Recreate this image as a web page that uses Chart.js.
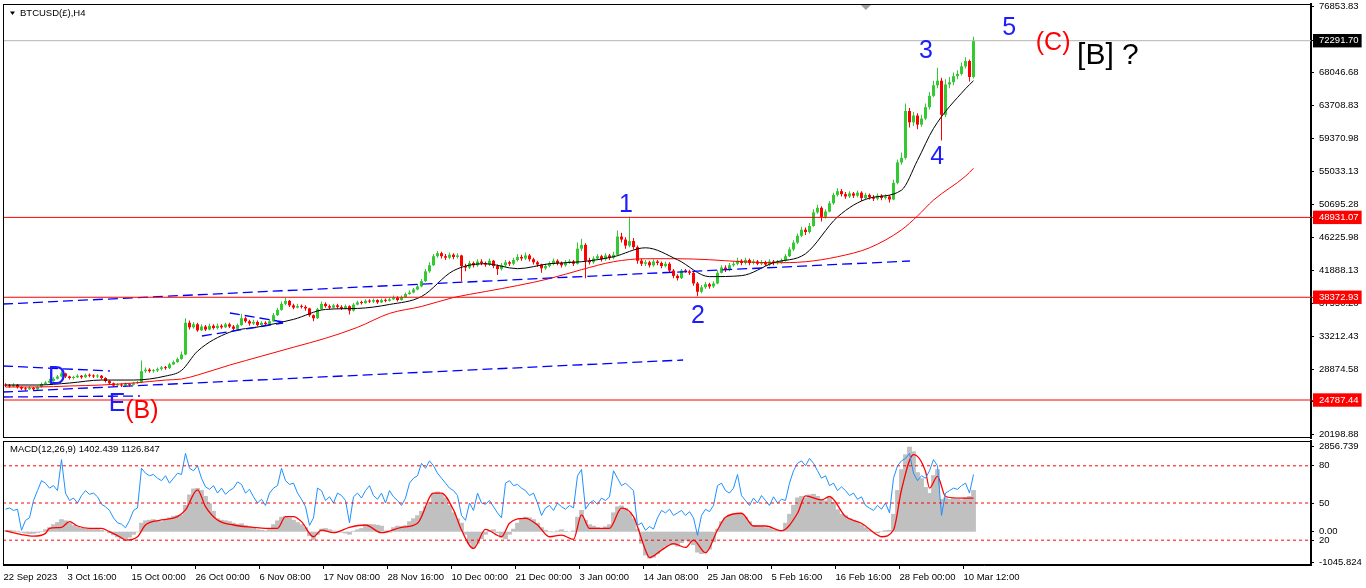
<!DOCTYPE html>
<html>
<head>
<meta charset="utf-8">
<script src="https://cdn.jsdelivr.net/npm/chart.js@4.4.1/dist/chart.umd.min.js"></script>
<style>
html, body { margin: 0; padding: 0; background: #fff; }
#wrap { position: relative; width: 1366px; height: 588px; overflow: hidden; background: #fff; }
canvas { position: absolute; left: 0; }
#price_canvas { top: 0; }
#macd_canvas { top: 440px; }
</style>
</head>
<body>
<div id="wrap">
  <canvas id="price_canvas" width="1366" height="440"></canvas>
  <canvas id="macd_canvas" width="1366" height="148"></canvas>
</div>
<script>
// time axis labels, one every 16 slots
var dateLabels = ['22 Sep 2023', '3 Oct 16:00', '15 Oct 00:00', '26 Oct 00:00', '6 Nov 08:00', '17 Nov 08:00',
    '28 Nov 16:00', '10 Dec 00:00', '21 Dec 00:00', '3 Jan 00:00', '14 Jan 08:00', '25 Jan 08:00',
    '5 Feb 16:00', '16 Feb 16:00', '28 Feb 00:00', '10 Mar 12:00'];

// candles, in thousands
var firstOpen = 26.8;
var closes = [26.7,26.6,26.8,26.5,26.3,26.2,26.4,26.2,26.5,26.9,
    27.1,27.3,27.6,27.9,28.3,27.9,27.7,27.8,28.0,27.8,
    28.1,28.0,27.9,28.0,27.7,27.3,27.0,26.7,26.8,26.7,
    26.9,26.8,27.0,27.1,28.6,28.8,28.6,28.7,28.9,29.1,
    29.0,29.5,29.8,30.2,30.8,35.0,34.4,34.8,34.0,34.5,
    34.1,34.6,34.3,34.6,34.4,34.8,34.5,34.2,34.7,35.6,
    35.2,34.9,35.1,34.7,35.0,34.8,35.2,36.0,36.7,37.5,
    37.9,37.3,37.0,37.2,37.1,36.9,36.0,35.6,36.8,37.5,
    37.2,37.0,37.3,37.1,36.9,37.2,36.6,37.4,37.7,37.6,
    37.9,37.8,38.0,37.7,38.0,37.9,38.1,38.3,38.0,38.4,
    38.8,39.0,39.4,39.8,40.5,41.8,42.6,43.8,44.2,43.8,
    43.6,44.0,43.7,43.9,42.5,42.3,42.9,42.6,43.1,42.9,
    42.7,43.2,42.5,42.1,42.6,43.0,42.8,43.3,43.7,43.5,
    43.9,43.4,43.0,42.7,42.2,42.5,42.8,43.2,42.9,42.6,
    43.0,43.1,42.8,44.8,45.3,43.2,43.0,43.5,43.8,43.4,
    43.9,43.6,44.0,46.4,46.0,45.2,45.8,45.0,43.2,42.8,
    43.0,42.6,43.1,42.9,42.5,42.8,41.9,41.2,40.9,41.9,
    41.8,41.6,40.2,39.1,39.7,40.1,39.8,40.2,41.6,42.3,
    42.0,42.6,42.8,43.2,42.9,43.3,42.9,43.1,42.8,43.0,
    42.7,43.1,42.9,43.0,43.2,43.8,44.7,45.6,46.5,47.3,
    47.0,47.8,49.6,50.2,49.0,49.7,50.8,51.9,52.4,52.0,
    51.7,52.1,51.8,52.2,51.5,51.9,51.6,51.4,51.8,51.5,
    51.7,51.3,53.5,56.2,56.8,63.0,61.5,62.4,61.2,62.0,
    63.5,65.0,66.4,67.0,62.5,66.5,66.8,67.6,67.9,68.9,
    69.6,67.5,72.2917];
var highs = [27.0,26.9,27.0,26.9,26.6,26.5,26.6,26.5,26.7,27.1,
    27.3,27.6,27.8,28.1,28.6,28.4,28.0,28.0,28.2,28.1,
    28.3,28.3,28.2,28.2,28.1,27.8,27.4,27.1,27.0,27.0,
    27.1,27.0,27.2,27.3,30.0,29.1,29.0,28.9,29.1,29.3,
    29.3,29.7,30.0,30.4,31.2,35.6,35.3,35.1,35.0,34.8,
    34.7,34.9,34.8,34.9,34.8,35.0,35.0,34.7,34.9,36.2,
    35.8,35.4,35.4,35.3,35.2,35.2,35.5,36.3,37.0,37.8,
    38.3,38.0,37.5,37.5,37.4,37.3,37.0,36.1,37.0,37.8,
    37.7,37.4,37.5,37.5,37.3,37.4,37.3,37.6,37.9,37.9,
    38.1,38.1,38.2,38.1,38.2,38.2,38.3,38.6,38.5,38.6,
    39.0,39.3,39.6,40.1,40.8,42.1,43.0,44.1,44.5,44.4,
    44.1,44.3,44.2,44.2,44.0,42.8,43.2,43.1,43.4,43.4,
    43.1,43.5,43.3,42.7,42.9,43.3,43.2,43.6,44.1,44.0,
    44.3,44.1,43.6,43.2,42.8,42.8,43.1,43.5,43.4,43.1,
    43.3,43.4,43.3,45.6,46.1,45.5,43.6,43.8,44.1,44.0,
    44.2,44.1,44.4,47.2,46.9,46.3,49.0,46.2,45.2,43.5,
    43.3,43.2,43.4,43.3,43.1,43.1,43.0,42.1,41.4,42.1,
    42.1,42.0,41.8,40.4,40.0,40.4,40.3,40.5,41.9,42.6,
    42.6,42.9,43.1,43.6,43.4,43.6,43.5,43.4,43.3,43.3,
    43.2,43.4,43.3,43.3,43.5,44.1,45.0,45.9,46.8,47.7,
    47.6,48.2,50.0,50.6,50.4,50.0,51.1,52.2,52.8,52.7,
    52.3,52.4,52.3,52.5,52.4,52.2,52.1,51.9,52.1,52.0,
    52.0,51.9,53.9,56.6,57.5,64.0,63.4,62.9,62.7,62.5,
    64.0,65.5,67.0,68.7,67.4,67.2,67.5,68.1,68.4,69.4,
    70.1,69.8,72.8];
var lows = [26.5,26.4,26.5,26.3,26.1,26.0,26.1,26.0,26.1,26.4,
    26.8,27.0,27.2,27.5,27.8,27.7,27.5,27.5,27.7,27.6,
    27.7,27.8,27.7,27.7,27.5,27.1,26.8,26.5,26.5,26.5,
    26.6,26.6,26.7,26.9,27.0,28.4,28.4,28.4,28.5,28.7,
    28.8,28.9,29.4,29.7,30.1,30.7,34.1,34.2,33.8,33.9,
    33.9,34.0,34.1,34.1,34.2,34.3,34.3,34.0,34.1,34.6,
    35.0,34.6,34.7,34.5,34.5,34.6,34.7,35.1,35.9,36.6,
    37.3,37.1,36.8,36.9,36.9,36.6,35.8,35.2,35.5,36.7,
    37.0,36.8,36.9,36.9,36.7,36.8,36.1,36.5,37.3,37.4,
    37.5,37.6,37.6,37.5,37.6,37.7,37.8,38.0,37.8,37.9,
    38.3,38.7,38.9,39.3,39.7,40.4,41.6,42.5,43.6,43.5,
    43.3,43.4,43.4,43.5,40.5,41.8,42.1,42.3,42.4,42.6,
    42.4,42.5,42.2,41.3,41.9,42.4,42.5,42.6,43.1,43.2,
    43.3,43.1,42.7,42.4,41.6,42.0,42.3,42.6,42.6,42.3,
    42.4,42.8,42.5,42.7,44.5,40.9,42.7,42.8,43.3,43.1,
    43.2,43.3,43.4,43.9,45.6,44.8,45.0,44.7,42.8,42.5,
    42.5,42.3,42.4,42.6,42.2,42.3,41.6,40.9,40.6,40.8,
    41.6,41.3,39.9,38.5,38.9,39.5,39.5,39.6,40.1,41.5,
    41.7,41.8,42.4,42.6,42.6,42.7,42.6,42.7,42.6,42.6,
    42.5,42.5,42.6,42.7,42.8,43.1,43.7,44.5,45.4,46.3,
    46.6,46.8,47.7,49.4,48.4,48.8,49.6,50.6,51.7,51.7,
    51.4,51.5,51.5,51.6,51.1,51.3,51.3,51.1,51.2,51.2,
    51.3,50.9,51.2,53.3,55.9,56.6,60.8,61.0,60.6,60.9,
    61.8,63.2,64.8,66.0,59.1,62.2,66.0,66.4,67.2,67.7,
    68.6,66.9,67.3];

// moving averages read at these bar numbers
var maIdx = [0,8,16,24,32,40,44,48,56,64,72,80,88,96,104,112,120,128,136,144,152,160,168,176,184,192,200,208,216,224,228,232,240,242];
var fastMa = [26772,26772,27034,27429,27429,27955,28700,31241,33738,34527,35447,36762,36893,37419,38471,41888,42808,42151,
    42808,43071,43729,44912,43334,41100,41231,42940,44123,48987,51484,52536,56479,60686,65944,66995];
var slowMa = [26509,26509,26640,26772,27034,27429,27560,28086,29401,30584,31767,32950,34396,36236,37156,38339,39128,39917,
    40837,42020,43071,43466,43466,43334,43071,42940,43071,43729,44912,47278,49118,51221,54376,55428];

// price scale
var priceTicks = [76853.83, 68046.68, 63708.83, 59370.98, 55033.13, 50695.28, 46225.98, 41888.13, 37550.28,
    33212.43, 28874.58, 24536.73, 20198.88];
var levelLines = [48931.07, 38372.93, 24787.44];
var lastPrice = 72291.70;

// drawn trend lines: bar from, price from, bar to, price to
var trendLines = [
    [-0.125, 37481, 226.6, 43166],
    [-0.125, 25847, 169.9, 30077],
    [-0.125, 25185, 34.1, 25318],
    [-0.125, 29284, 26.6, 28623],
    [56.6, 36291, 69.9, 35101],
    [49.6, 33250, 69.9, 34969]
];

// wave marks: text, bar, price
var waveLabels = [['D', 13.4, 27830], ['E', 28.4, 24259], ['(B)', 34.6, 23334], ['1', 155.6, 50570],
    ['2', 173.6, 35894], ['3', 230.6, 70930], ['4', 233.4, 56915], ['5', 251.4, 73971],
    ['(C)', 262.4, 71988], ['[B] ?', 276.1, 70269]];
var shiftMarkBar = 215.6;

// MACD pane
var macdHist = [50,60,40,30,-30,-60,-80,-70,-40,20,
    80,150,250,320,420,380,300,220,160,130,
    110,100,110,90,60,10,-50,-120,-190,-250,
    -260,-200,-100,-20,300,380,400,420,380,350,
    420,480,530,560,570,900,1250,1450,1470,1400,
    1200,950,700,450,400,380,350,300,260,280,
    220,180,120,80,60,40,90,250,380,500,
    530,480,400,320,250,150,-150,-290,-100,100,
    120,80,40,10,-30,-60,-100,30,80,120,
    220,260,250,230,200,40,-30,150,200,190,
    220,350,450,550,700,850,1000,1300,1350,1280,
    1150,900,650,450,300,-100,-400,-560,-400,-250,
    -100,50,80,-50,-200,-250,-100,100,300,450,
    500,480,420,300,150,60,20,-20,40,80,
    30,-10,40,500,730,400,250,200,150,120,
    180,250,650,850,880,800,650,450,100,-400,
    -800,-900,-870,-750,-600,-500,-420,-450,-500,-380,
    -300,-350,-450,-700,-750,-680,-600,-350,100,350,
    480,550,580,620,600,500,350,220,200,180,
    150,120,80,60,50,300,600,900,1150,1200,
    1150,1250,1270,1200,1100,1050,1150,1000,750,600,
    550,450,400,320,250,150,60,0,-50,20,
    50,60,600,1400,2100,2600,2856.739,2700,2000,1800,
    1500,1300,1900,2100,1100,1150,1100,1150,1120,1080,
    1150,1200,1402.439];
var signalPts = [[0,27],[4,-95],[7,-150],[10,-56],[11,113],[14,147],[16,338],[18,192],[21,113],[24,113],[26,0],
    [29,-203],[30,-282],[33,-169],[35,225],[39,394],[43,507],[45,732],[48,1409],[50,845],[53,394],[57,225],
    [62,147],[65,113],[68,113],[70,507],[72,507],[74,338],[77,-169],[79,56],[82,-34],[86,147],[90,225],
    [94,-34],[99,147],[103,282],[107,1296],[109,1296],[112,732],[114,56],[117,-563],[120,79],[124,-169],
    [126,282],[130,451],[133,225],[136,-169],[139,-113],[142,-259],[144,563],[146,113],[151,113],[154,789],
    [157,507],[160,-620],[161,-868],[164,-620],[167,-400],[170,-530],[172,-282],[175,-710],[178,56],
    [180,484],[184,620],[187,192],[190,192],[194,34],[198,620],[200,1206],[204,1070],[206,1183],[210,507],
    [214,282],[218,-113],[219,-169],[222,56],[224,1409],[227,2592],[230,2028],[231,1465],[233,1860],
    [235,1183],[239,1127],[242,1126.847]];
var oscValues = [45,46,44,45,28,36,38,52,60,68,
    66,62,64,60,85,58,52,54,50,56,
    60,57,58,55,49,47,44,38,34,33,
    30,36,44,46,78,74,72,73,70,68,
    72,66,70,74,73,90,78,76,80,70,
    63,61,64,58,62,57,60,62,67,65,
    58,61,55,50,53,48,58,62,64,78,
    68,65,66,58,53,47,32,38,62,60,
    52,55,50,58,56,52,34,55,58,54,
    60,64,56,53,58,50,60,55,52,48,
    54,66,70,72,82,78,84,80,74,70,
    66,62,60,56,40,36,50,44,58,50,
    49,52,47,42,38,66,68,64,65,62,
    60,56,58,50,40,46,48,44,50,47,
    45,48,46,72,77,45,50,52,49,54,
    52,55,76,70,64,66,63,60,32,34,
    28,31,29,38,44,42,45,40,42,44,
    40,43,38,24,40,45,43,48,64,66,
    60,58,62,73,56,52,48,54,50,56,
    52,48,55,50,53,52,66,76,82,84,
    80,86,82,76,70,72,64,66,60,63,
    60,56,58,53,55,48,46,44,48,45,
    50,42,70,80,84,86,90,74,68,72,
    70,76,85,80,40,58,60,62,61,64,
    66,58,73];
var macdTicks = [2856.739, 0, -1045.824];
var macdTickLabels = ['2856.739', '0.00', '-1045.824'];
var oscLevels = [80, 50, 20];

var X_MIN = -0.125, X_MAX = 326.875;
var MACD_MIN = -1119.2, MACD_MAX = 3048.3;
var FONT = '"Liberation Sans", Arial, sans-serif';
var UP = '#33c933', DOWN = '#ff0000';

Chart.defaults.font.family = FONT;
Chart.defaults.font.size = 9.5;
Chart.defaults.color = '#000';

function axis_fit(s){
    s.width = 55;
    s.paddingTop = 0;
    s.paddingBottom = 0;
}

function tick_kind(v){
    if (v === lastPrice) return 'last';
    if (levelLines.indexOf(v) >= 0) return 'level';
    return 'plain';
}

function hline(v, color, axis, dash){
    return {
        type: 'line', yAxisID: axis,
        data: [{x: X_MIN, y: v}, {x: X_MAX, y: v}],
        borderColor: color, borderWidth: 1, borderDash: dash || [],
        pointRadius: 0, order: 1
    };
}

var paneFrame = {
    id: 'paneFrame',
    afterDatasetsDraw: function(chart){
        var a = chart.chartArea, ctx = chart.ctx;
        ctx.save();
        ctx.strokeStyle = '#000';
        ctx.lineWidth = 1;
        ctx.strokeRect(a.left + 0.5, a.top + 0.5, a.right - a.left, a.bottom - a.top - 1);
        ctx.restore();
    }
};

var paneTitle = {
    id: 'paneTitle',
    afterDraw: function(chart, args, opts){
        var a = chart.chartArea, ctx = chart.ctx;
        ctx.save();
        ctx.fillStyle = '#000';
        if (opts.arrow) {
            ctx.beginPath();
            ctx.moveTo(a.left + 7, a.top + 7.5);
            ctx.lineTo(a.left + 12, a.top + 7.5);
            ctx.lineTo(a.left + 9.5, a.top + 11);
            ctx.closePath();
            ctx.fill();
            // chart shift marker
            var sx = chart.scales.x.getPixelForValue(shiftMarkBar);
            ctx.fillStyle = '#a0a0a0';
            ctx.beginPath();
            ctx.moveTo(sx - 5, a.top + 1);
            ctx.lineTo(sx + 5, a.top + 1);
            ctx.lineTo(sx, a.top + 6);
            ctx.closePath();
            ctx.fill();
            ctx.fillStyle = '#000';
        }
        ctx.font = '9.5px ' + FONT;
        ctx.textBaseline = 'middle';
        ctx.fillText(opts.text, a.left + opts.dx, a.top + opts.dy);
        ctx.restore();
    }
};

var waveText = {
    id: 'waveText',
    afterDatasetsDraw: function(chart){
        var ctx = chart.ctx, xs = chart.scales.x, ys = chart.scales.y;
        ctx.save();
        ctx.textAlign = 'center';
        ctx.textBaseline = 'middle';
        for (var i = 0; i < waveLabels.length; i++) {
            var w = waveLabels[i];
            var color = '#1c1cff', size = 25;
            if (w[0] === '(B)' || w[0] === '(C)') color = '#ff0000';
            if (w[0] === '[B] ?') { color = '#000'; size = 30; }
            ctx.font = size + 'px ' + FONT;
            ctx.fillStyle = color;
            ctx.fillText(w[0], xs.getPixelForValue(w[1]), ys.getPixelForValue(w[2]));
        }
        ctx.restore();
    }
};

function draw_price(){
    var wick = [], body = [], colors = [];
    for (var j = 0; j < closes.length; j++) {
        var o = j === 0 ? firstOpen : closes[j - 1];
        var c = closes[j];
        wick.push({x: j + 0.5, y: [Math.min(lows[j], o, c) * 1000, Math.max(highs[j], o, c) * 1000]});
        body.push({x: j + 0.5, y: [Math.min(o, c) * 1000, Math.max(o, c) * 1000]});
        colors.push(c >= o ? UP : DOWN);
    }

    var datasets = [];
    levelLines.forEach(function(v){ datasets.push(hline(v, '#ff0000', 'y')); });
    datasets.push(hline(lastPrice, '#b4b4b4', 'y'));
    trendLines.forEach(function(t){
        datasets.push({
            type: 'line', data: [{x: t[0], y: t[1]}, {x: t[2], y: t[3]}],
            borderColor: '#0000ff', borderWidth: 1.3, borderDash: [10, 5], pointRadius: 0, order: 2
        });
    });
    datasets.push({
        type: 'line', data: maIdx.map(function(j, i){ return {x: j + 0.5, y: fastMa[i]}; }),
        borderColor: '#000', borderWidth: 1, pointRadius: 0, cubicInterpolationMode: 'monotone', order: 3
    });
    datasets.push({
        type: 'line', data: maIdx.map(function(j, i){ return {x: j + 0.5, y: slowMa[i]}; }),
        borderColor: '#ff0000', borderWidth: 1, pointRadius: 0, cubicInterpolationMode: 'monotone', order: 3
    });
    datasets.push({
        type: 'bar', data: body, backgroundColor: colors, grouped: false,
        barPercentage: 0.75, categoryPercentage: 1, minBarLength: 1, inflateAmount: 0, order: 4
    });
    datasets.push({
        type: 'bar', data: wick, backgroundColor: colors, grouped: false,
        barPercentage: 0.25, categoryPercentage: 1, inflateAmount: 0, order: 5
    });

    new Chart(document.getElementById('price_canvas'), {
        type: 'bar',
        data: {datasets: datasets},
        options: {
            responsive: false,
            animation: false,
            layout: {padding: {left: 3, top: 4, right: 0, bottom: 2}},
            plugins: {
                legend: {display: false},
                tooltip: {enabled: false},
                paneTitle: {text: 'BTCUSD(£),H4', dx: 17, dy: 9, arrow: true}
            },
            scales: {
                x: {type: 'linear', min: X_MIN, max: X_MAX, display: false, offset: false, grid: {offset: false}},
                y: {
                    position: 'right', min: 19765, max: 77144, beginAtZero: false,
                    afterFit: axis_fit,
                    afterBuildTicks: function(s){
                        s.ticks = priceTicks.concat(levelLines, [lastPrice]).map(function(v){ return {value: v}; });
                    },
                    grid: {
                        drawOnChartArea: false, tickLength: 3,
                        color: function(c){ return tick_kind(c.tick && c.tick.value) === 'level' ? '#ff0000' : '#000'; }
                    },
                    border: {color: '#000', width: 2},
                    ticks: {
                        autoSkip: false, crossAlign: 'near', padding: 5,
                        callback: function(v){ return v.toFixed(2); },
                        color: function(c){ return tick_kind(c.tick && c.tick.value) === 'plain' ? '#000' : '#fff'; },
                        showLabelBackdrop: true,
                        backdropColor: function(c){
                            var k = tick_kind(c.tick && c.tick.value);
                            return k === 'level' ? '#ff0000' : (k === 'last' ? '#000' : 'rgba(0,0,0,0)');
                        },
                        backdropPadding: {left: 6, right: 3, top: 1, bottom: 1}
                    }
                }
            }
        },
        plugins: [paneFrame, paneTitle, waveText]
    });
}

function macd_to_osc(v){
    return 100 - (MACD_MAX - v) / (MACD_MAX - MACD_MIN) * 100;
}

function draw_macd(){
    var paneTicks = [];
    macdTicks.forEach(function(v, i){ paneTicks.push({value: macd_to_osc(v), text: macdTickLabels[i]}); });
    oscLevels.forEach(function(v){ paneTicks.push({value: v, text: String(v)}); });

    var datasets = [];
    oscLevels.forEach(function(v){ datasets.push(hline(v, '#ff0000', 'yo', [3, 3])); });
    datasets.push({
        type: 'line', yAxisID: 'yo', data: oscValues.map(function(v, j){ return {x: j + 0.5, y: v}; }),
        borderColor: '#1e90ff', borderWidth: 1, pointRadius: 0, order: 2
    });
    datasets.push({
        type: 'line', yAxisID: 'ym', data: signalPts.map(function(p){ return {x: p[0] + 0.5, y: p[1]}; }),
        borderColor: '#ff0000', borderWidth: 1.3, pointRadius: 0, cubicInterpolationMode: 'monotone', order: 3
    });
    datasets.push({
        type: 'bar', yAxisID: 'ym', data: macdHist.map(function(v, j){ return {x: j + 0.5, y: v}; }),
        backgroundColor: '#c0c0c0', grouped: false, barPercentage: 1.2, categoryPercentage: 1, inflateAmount: 0, order: 4
    });

    new Chart(document.getElementById('macd_canvas'), {
        type: 'bar',
        data: {datasets: datasets},
        options: {
            responsive: false,
            animation: false,
            layout: {padding: {left: 3, top: 1, right: 0, bottom: 0}},
            plugins: {
                legend: {display: false},
                tooltip: {enabled: false},
                paneTitle: {
                    text: 'MACD(12,26,9) ' + macdHist[macdHist.length - 1].toFixed(3) + ' ' +
                        signalPts[signalPts.length - 1][1].toFixed(3),
                    dx: 7, dy: 8, arrow: false
                }
            },
            scales: {
                x: {
                    type: 'linear', min: X_MIN, max: X_MAX, offset: false, position: 'bottom',
                    afterBuildTicks: function(s){
                        s.ticks = dateLabels.map(function(l, k){ return {value: k * 16}; });
                    },
                    afterFit: function(s){ s.height = 23; s.paddingLeft = 0; s.paddingRight = 0; },
                    grid: {
                        drawOnChartArea: false, offset: false, tickLength: 4,
                        color: function(c){ return c.index === 0 ? 'rgba(0,0,0,0)' : '#000'; }
                    },
                    border: {color: '#000'},
                    ticks: {
                        autoSkip: false, maxRotation: 0, align: 'start', padding: 3,
                        callback: function(v, i){ return dateLabels[i]; }
                    }
                },
                ym: {type: 'linear', display: false, min: MACD_MIN, max: MACD_MAX, beginAtZero: false},
                yo: {
                    type: 'linear', position: 'right', min: 0, max: 100,
                    afterFit: axis_fit,
                    afterBuildTicks: function(s){
                        s.ticks = paneTicks.map(function(t){ return {value: t.value}; });
                    },
                    grid: {drawOnChartArea: false, tickLength: 3, color: '#000'},
                    border: {color: '#000', width: 2},
                    ticks: {
                        autoSkip: false, crossAlign: 'near', padding: 5,
                        callback: function(v, i){ return paneTicks[i].text; }
                    }
                }
            }
        },
        plugins: [paneFrame, paneTitle]
    });
}

draw_price();
draw_macd();
</script>
</body>
</html>
